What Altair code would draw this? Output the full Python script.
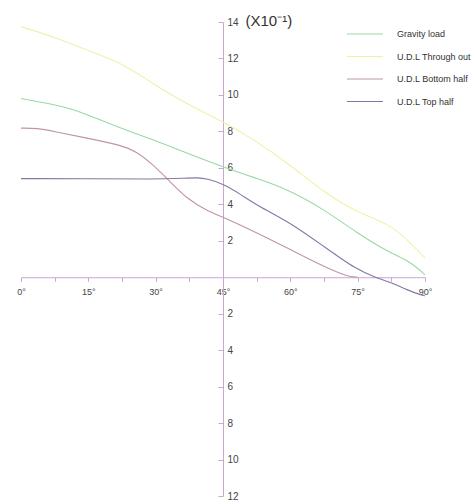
import altair as alt
import pandas as pd

series_names = ["Gravity load", "U.D.L Through out", "U.D.L Bottom half", "U.D.L Top half"]
series_colors = ["#9ad8a4", "#f2f0a8", "#c094ac", "#8378a6"]

grav_x = [0, 7.3, 11.7, 14.7, 22.1, 29.5, 37, 44.9, 52.6, 59.2, 67.4, 74.8, 82.2, 86.7, 90]
grav_y = [9.8, 9.48, 9.2, 8.93, 8.18, 7.54, 6.8, 6.06, 5.41, 4.85, 3.74, 2.44, 1.33, 0.87, 0.13]

udl_x = [0, 7.3, 14.7, 22.1, 29.5, 37, 44.9, 52.6, 60, 67.4, 74.8, 82.2, 86, 90]
udl_y = [13.74, 13.2, 12.44, 11.8, 10.6, 9.48, 8.56, 7.44, 6.15, 4.67, 3.56, 2.9, 2.07, 1.06]

bot_x = [0, 3.6, 7.3, 14.7, 22.1, 25.8, 29.5, 33.3, 37, 41.4, 44.9, 52.6, 60, 67.4, 72.6, 75]
bot_y = [8.18, 8.18, 8.0, 7.63, 7.26, 6.89, 6.15, 5.22, 4.3, 3.65, 3.31, 2.44, 1.52, 0.59, 0.04, 0.0]

top_x = [0, 15, 29.5, 37, 39.2, 41.4, 44.9, 48.8, 52.6, 60, 67.4, 74.8, 78.9, 82.6, 86, 89.2, 90]
top_y = [5.41, 5.41, 5.37, 5.44, 5.46, 5.41, 5.13, 4.57, 3.93, 3.0, 1.7, 0.41, 0.0, -0.3, -0.7, -0.98, -1.02]

x_ticks = [0, 7.5, 15, 22.5, 30, 37.5, 45, 52.5, 60, 67.5, 75, 82.5, 90]
y_ticks = [-12, -10, -8, -6, -4, -2, 2, 4, 6, 8, 10, 12, 14]

rows = []
for name, xs, ys in [
    (series_names[0], grav_x, grav_y),
    (series_names[1], udl_x, udl_y),
    (series_names[2], bot_x, bot_y),
    (series_names[3], top_x, top_y),
]:
    for i, (a, b) in enumerate(zip(xs, ys)):
        rows.append({"series": name, "angle": a, "value": b, "order": i})
df = pd.DataFrame(rows)

W, H = 404, 474
axis_color = "#c9a6d6"
font = "Liberation Sans"

chart = alt.Chart(df).mark_line(strokeWidth=1.1, interpolate="basis").encode(
    x=alt.X("angle:Q",
            scale=alt.Scale(domain=[0, 90], nice=False, zero=False),
            axis=alt.Axis(values=x_ticks, offset=-(H * 12 / 26), grid=False,
                          domainColor=axis_color, tickColor=axis_color, tickSize=4,
                          labelExpr="datum.value % 15 == 0 ? datum.value + '°' : ''",
                          labelFont=font, labelFontSize=9, labelColor="#444",
                          labelPadding=6, labelFlush=False, labelOverlap=False, title=None)),
    y=alt.Y("value:Q",
            scale=alt.Scale(domain=[-12, 14], nice=False, zero=False),
            axis=alt.Axis(values=y_ticks, offset=-(W / 2), grid=False,
                          domainColor=axis_color, tickColor=axis_color, tickSize=5,
                          labelAlign="left", labelPadding=-9, labelBaseline="middle",
                          labelExpr="abs(datum.value)",
                          labelFont=font, labelFontSize=10, labelColor="#444",
                          labelFlush=False, labelOverlap=False,
                          title="(X10⁻¹)", titleAngle=0, titleFont=font,
                          titleFontSize=15, titleFontWeight="normal", titleColor="#333",
                          titleX=22, titleY=-2, titleAlign="left", titleBaseline="middle")),
    color=alt.Color("series:N",
                    scale=alt.Scale(domain=series_names, range=series_colors),
                    legend=alt.Legend(title=None, orient="none", legendX=333, legendY=1,
                                      symbolType="M-1.8,0H1.8", symbolSize=400,
                                      symbolStrokeWidth=1.2, rowPadding=6.5,
                                      labelFont=font, labelFontSize=9, labelColor="#333",
                                      labelOffset=21, labelLimit=200)),
    order="order:Q",
).properties(
    width=W, height=H,
    background="white",
    autosize=alt.AutoSizeParams(type="none"),
    padding={"left": 21, "top": 22, "right": 51, "bottom": 6},
).configure_view(strokeWidth=0, stroke="transparent")

chart.save("out.html", embed_options={"renderer": "svg", "actions": False})
